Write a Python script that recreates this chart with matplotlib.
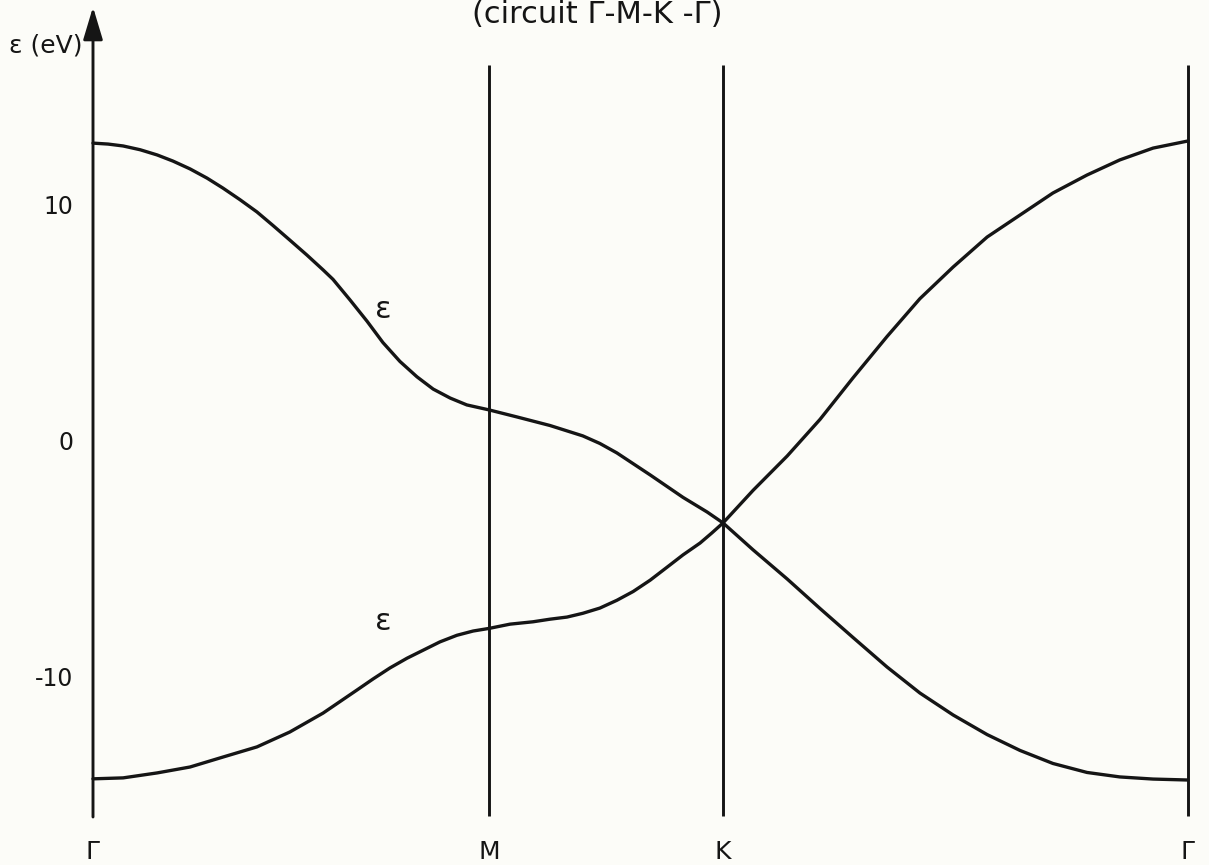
import matplotlib
matplotlib.use("Agg")
import matplotlib.pyplot as plt

# ---- data ----
k_ticks = [0.0, 1.0, 1.591, 2.765]
k_labels = ["Γ", "M", "K", "Γ"]
e_ticks = [10, 0, -10]
e_tick_labels = ["10", "0", "-10"]

# upper band (Γ -> M -> K -> Γ), k in units of |ΓM|, energy in eV
k_upper = [0.000, 0.038, 0.076, 0.119, 0.162, 0.202, 0.245, 0.288, 0.328, 0.371, 0.414, 0.455,
           0.497, 0.540, 0.581, 0.606, 0.649, 0.692, 0.732, 0.775, 0.818, 0.859, 0.902, 0.944, 1.000,
           1.071, 1.154, 1.237, 1.280, 1.323, 1.407, 1.490, 1.551, 1.591,
           1.667, 1.753, 1.836, 1.919, 2.005, 2.088, 2.172, 2.258, 2.341, 2.424, 2.510, 2.593, 2.677, 2.765]
e_upper = [12.68, 12.64, 12.56, 12.40, 12.18, 11.92, 11.59, 11.20, 10.78, 10.29, 9.77, 9.19,
           8.58, 7.95, 7.32, 6.92, 6.05, 5.15, 4.25, 3.45, 2.80, 2.28, 1.90, 1.61, 1.40,
           1.10, 0.74, 0.30, -0.02, -0.42, -1.35, -2.30, -2.92, -3.38,
           -2.00, -0.55, 1.00, 2.75, 4.50, 6.10, 7.44, 8.71, 9.64, 10.57, 11.33, 11.97, 12.47, 12.77]

# lower band (Γ -> M -> K -> Γ)
k_lower = [0.000, 0.076, 0.162, 0.245, 0.328, 0.414, 0.497, 0.581, 0.667, 0.707, 0.750, 0.793,
           0.876, 0.919, 0.960, 1.000,
           1.053, 1.111, 1.154, 1.197, 1.237, 1.280, 1.323, 1.364, 1.407, 1.449, 1.490, 1.533, 1.563, 1.591,
           1.667, 1.753, 1.836, 1.919, 2.005, 2.088, 2.172, 2.258, 2.341, 2.424, 2.510, 2.593, 2.677, 2.765]
e_lower = [-14.20, -14.16, -13.95, -13.70, -13.28, -12.85, -12.22, -11.42, -10.44, -9.98, -9.51, -9.10,
           -8.41, -8.13, -7.95, -7.84,
           -7.66, -7.56, -7.45, -7.36, -7.20, -6.98, -6.65, -6.28, -5.80, -5.26, -4.73, -4.23, -3.80, -3.38,
           -4.52, -5.75, -7.00, -8.22, -9.47, -10.57, -11.50, -12.33, -13.00, -13.55, -13.93, -14.12, -14.21, -14.25]

band_labels = ["ε", "ε"]
title_text = "(circuit Γ-M-K -Γ)"
ylabel_text = "ε (eV)"

# ---- layout (pixel geometry of the figure) ----
W, H = 1209, 865
x0_px, px_per_k = 93, 396.0
y0_px, px_per_e = 443, 23.65

def kx(px):
    return (px - x0_px) / px_per_k

def ey(py):
    return (y0_px - py) / px_per_e

ink = "#151515"
bg = "#fcfcf8"

fig = plt.figure(figsize=(W / 100, H / 100), dpi=100, facecolor=bg)
ax = fig.add_axes([0, 0, 1, 1], facecolor=bg)
ax.set_xlim(kx(0), kx(W))
ax.set_ylim(ey(H), ey(0))
ax.axis("off")

# vertical lines at M, K, Γ
for k in k_ticks[1:]:
    ax.plot([k, k], [ey(816), ey(65)], color=ink, lw=2.1, solid_capstyle="butt")

# energy axis with arrow
ax.annotate("", xy=(k_ticks[0], ey(7)), xytext=(k_ticks[0], ey(817)),
            arrowprops=dict(arrowstyle="-|>,head_length=1.0,head_width=0.3",
                            mutation_scale=20, lw=2.1, color=ink,
                            shrinkA=0, shrinkB=0))

# bands
ax.plot(k_upper, e_upper, color=ink, lw=2.4, solid_joinstyle="round", solid_capstyle="round")
ax.plot(k_lower, e_lower, color=ink, lw=2.4, solid_joinstyle="round", solid_capstyle="round")

# band labels
ax.text(kx(383), ey(310), band_labels[0], fontsize=22, color=ink, ha="center", va="center")
ax.text(kx(383), ey(621), band_labels[1], fontsize=22, color=ink, ha="center", va="center")

# energy tick labels
for v, lab in zip(e_ticks, e_tick_labels):
    ax.text(kx(73), v, lab, fontsize=17, color=ink, ha="right", va="center")

# k-point labels
for k, lab in zip(k_ticks, k_labels):
    ax.text(k, ey(852), lab, fontsize=18, color=ink, ha="center", va="center")

# axis label and title
ax.text(kx(9), ey(45), ylabel_text, fontsize=18, color=ink, ha="left", va="center")
ax.text(kx(597), ey(23), title_text, fontsize=22, color=ink, ha="center", va="baseline")

fig.savefig("out.png", dpi=100, facecolor=bg)
